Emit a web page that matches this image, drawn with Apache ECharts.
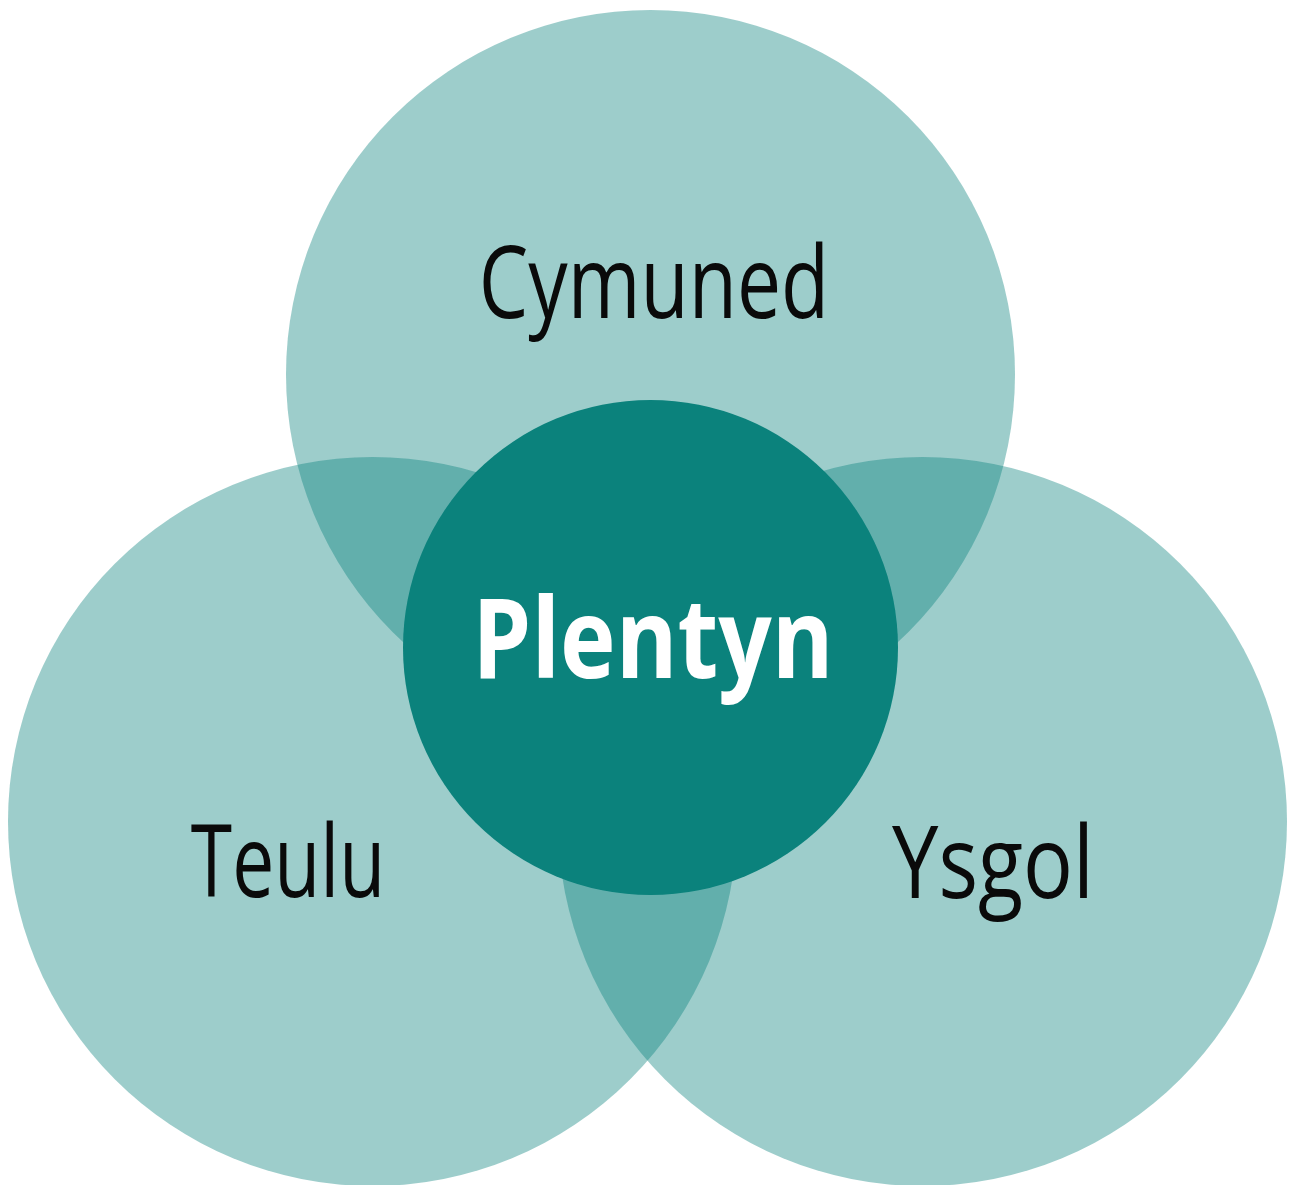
<!DOCTYPE html>
<html>
<head>
    <meta charset="utf-8">
    <title>Plentyn</title>
    <script type="text/javascript" src="https://cdn.jsdelivr.net/npm/echarts@6/dist/echarts.min.js"></script>
    <style>
        html, body { margin: 0; padding: 0; background: #ffffff; }
        #main { width: 1290px; height: 1185px; }
    </style>
</head>
<body>
    <div id="main"></div>
    <script type="text/javascript">
        // circles in chart units (x right, y down)
        var circleNames = ['Cymuned', 'Teulu', 'Ysgol', 'Plentyn'];
        var centerX = [650.5, 372.5, 922.5, 650.5];
        var centerY = [374.5, 821.5, 821.5, 647.5];
        var radius = [364.5, 364.5, 364.5, 247.5];
        // where each name sits
        var labelX = [654, 288, 993, 653];
        var labelY = [290, 869, 870, 646];

        var myChart = echarts.init(document.getElementById('main'));

        // look of each circle / label
        var fills = ['rgba(11,130,124,0.4)', 'rgba(11,130,124,0.4)', 'rgba(11,130,124,0.4)', '#0b827c'];
        var textColors = ['#0a0a0a', '#0a0a0a', '#0a0a0a', '#ffffff'];
        var fontSizes = [100, 100, 100, 112];
        var fontWeights = ['normal', 'normal', 'normal', 'bold'];
        var squeeze = [0.786, 0.75, 0.83, 0.84];

        var data = circleNames.map(function (n, i) {
            return [centerX[i], centerY[i], radius[i], labelX[i], labelY[i]];
        });

        var option = {
            animation: false,
            grid: { left: 0, right: 0, top: 0, bottom: 0 },
            xAxis: { type: 'value', min: 0, max: 1290, show: false },
            yAxis: { type: 'value', min: 0, max: 1185, inverse: true, show: false },
            series: [{
                type: 'custom',
                data: data,
                renderItem: function (params, api) {
                    var i = params.dataIndex;
                    var c = api.coord([api.value(0), api.value(1)]);
                    var r = api.size([api.value(2), 0])[0];
                    var t = api.coord([api.value(3), api.value(4)]);
                    return {
                        type: 'group',
                        children: [{
                            type: 'circle',
                            shape: { cx: c[0], cy: c[1], r: r },
                            style: { fill: fills[i] }
                        }, {
                            type: 'text',
                            x: t[0],
                            y: t[1],
                            scaleX: squeeze[i],
                            style: {
                                text: circleNames[i],
                                x: 0,
                                y: 0,
                                fill: textColors[i],
                                fontSize: fontSizes[i],
                                fontWeight: fontWeights[i],
                                fontFamily: '"Open Sans", "Noto Sans", sans-serif',
                                align: 'center',
                                verticalAlign: 'middle'
                            }
                        }]
                    };
                }
            }]
        };
        myChart.setOption(option);
    </script>
</body>
</html>
